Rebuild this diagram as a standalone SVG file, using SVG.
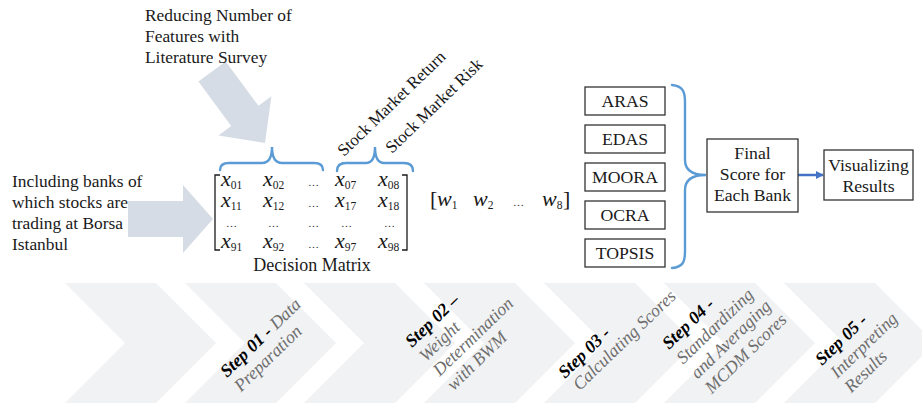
<svg xmlns="http://www.w3.org/2000/svg" width="922" height="403" viewBox="0 0 922 403">
<defs>
<style>
.t{font-family:"Liberation Serif","Times New Roman",serif;fill:#1a1a1a}
.lbl{font-size:17.4px}
.box{fill:#fff;stroke:#333;stroke-width:1.3}
.bt{font-size:17.7px;text-anchor:middle}
.chev{fill:#f1f2f4}
.bigarrow{fill:#d6dce5}
.brace{fill:none;stroke:#5b9bd5;stroke-width:2.4;stroke-linecap:round}
.mx{font-family:"Liberation Serif","Times New Roman",serif;font-size:22px;font-style:italic;fill:#1a1a1a}
.sub{font-size:11.5px;font-style:normal}
.dots{font-family:"Liberation Serif",serif;font-size:11px;fill:#1a1a1a}
.step{font-family:"Liberation Serif","Times New Roman",serif;font-size:17.8px;font-style:italic;fill:#6e6e6e}
.sb{font-weight:bold;fill:#000}
</style>
<marker id="ah" viewBox="0 0 10 10" refX="9" refY="5" markerWidth="3.2" markerHeight="3.2" orient="auto">
<path d="M0,0 L10,5 L0,10 z" fill="#4472c4"/>
</marker>
</defs>

<g id="chevrons">
<polygon class="chev" points="65,283 156,283 216,343 156,403 65,403 125,343"/>
<polygon class="chev" points="185,283 276,283 336,343 276,403 185,403 245,343"/>
<polygon class="chev" points="304,283 395,283 455,343 395,403 304,403 364,343"/>
<polygon class="chev" points="424,283 515,283 575,343 515,403 424,403 484,343"/>
<polygon class="chev" points="544,283 635,283 695,343 635,403 544,403 604,343"/>
<polygon class="chev" points="664,283 755,283 815,343 755,403 664,403 724,343"/>
<polygon class="chev" points="784,283 875,283 935,343 875,403 784,403 844,343"/>
</g>

<g id="step01">
<text class="step" transform="translate(227,378) rotate(-44)"><tspan x="0" y="0"><tspan class="sb">Step 01 - </tspan>Data</tspan><tspan x="0" y="20">Preparation</tspan></text>
</g>
<g id="step02">
<text class="step" transform="translate(412,348) rotate(-44)"><tspan x="0" y="0" class="sb">Step 02 –</tspan><tspan x="0" y="20">Weight</tspan><tspan x="0" y="40">Determination</tspan><tspan x="0" y="60">with BWM</tspan></text>
</g>
<g id="step03">
<text class="step" transform="translate(565,379) rotate(-44)"><tspan x="0" y="0" class="sb">Step 03 -</tspan><tspan x="2" y="19">Calculating Scores</tspan></text>
</g>
<g id="step04">
<text class="step" transform="translate(669,350) rotate(-44)"><tspan x="0" y="0" class="sb">Step 04 -</tspan><tspan x="0" y="20.5">Standardizing</tspan><tspan x="0" y="41">and Averaging</tspan><tspan x="0" y="61.5">MCDM Scores</tspan></text>
</g>
<g id="step05">
<text class="step" transform="translate(822,366) rotate(-44)"><tspan x="0" y="0" class="sb">Step 05 -</tspan><tspan x="2" y="20">Interpreting</tspan><tspan x="2" y="40">Results</tspan></text>
</g>

<g id="connectors">
<polygon class="bigarrow" points="225.7,61.4 258.5,105.8 271.4,96.3 265,143 218.4,135.5 231.2,126 198.4,81.6"/>
<polygon class="bigarrow" points="128,201 183,201 183,185 213,219 183,253 183,237 128,237"/>
<path class="brace" d="M220,170 Q220,163 229,163 L262,163 Q272,163 272,147 Q272,163 282,163 L314,163 Q323,163 323,170"/>
<path class="brace" d="M337,171 Q337,163 346,163 L366,163 Q375,163 375,147 Q375,163 384,163 L404,163 Q413,163 413,171"/>
<path class="brace" d="M672,85 C683,86 685,92 685,102 L685,160 C685,170 692,175 706,175 C692,175 685,180 685,190 L685,251 C685,262 683,267 672,268"/>
<line x1="798" y1="175" x2="823" y2="175" stroke="#4472c4" stroke-width="2.5" marker-end="url(#ah)"/>
</g>

<g id="reducing">
<text class="t lbl"><tspan x="145" y="21">Reducing Number of</tspan><tspan x="145" y="42">Features with</tspan><tspan x="145" y="63">Literature Survey</tspan></text>
</g>
<g id="including">
<text class="t lbl"><tspan x="12" y="187">Including banks of</tspan><tspan x="12" y="208">which stocks are</tspan><tspan x="12" y="229">trading at Borsa</tspan><tspan x="12" y="250">Istanbul</tspan></text>
</g>

<g id="stock-labels">
<text class="t" font-size="17" transform="translate(344,157) rotate(-44)">Stock Market Return</text>
<text class="t" font-size="17" transform="translate(392,154) rotate(-44)">Stock Market Risk</text>
</g>

<g id="decision-matrix">
<path d="M220,175 L215,175 L215,250 L220,250" fill="none" stroke="#1a1a1a" stroke-width="1.3"/>
<path d="M402,175 L407,175 L407,250 L402,250" fill="none" stroke="#1a1a1a" stroke-width="1.3"/>
<text class="mx" x="221" y="186">x<tspan class="sub" dy="3">01</tspan></text>
<text class="mx" x="263" y="186">x<tspan class="sub" dy="3">02</tspan></text>
<text class="dots" x="308" y="186">…</text>
<text class="mx" x="335" y="186">x<tspan class="sub" dy="3">07</tspan></text>
<text class="mx" x="378" y="186">x<tspan class="sub" dy="3">08</tspan></text>
<text class="mx" x="221" y="207">x<tspan class="sub" dy="3">11</tspan></text>
<text class="mx" x="263" y="207">x<tspan class="sub" dy="3">12</tspan></text>
<text class="dots" x="308" y="207">…</text>
<text class="mx" x="335" y="207">x<tspan class="sub" dy="3">17</tspan></text>
<text class="mx" x="378" y="207">x<tspan class="sub" dy="3">18</tspan></text>
<text class="dots" x="226" y="227">…</text>
<text class="dots" x="268" y="227">…</text>
<text class="dots" x="308" y="227">…</text>
<text class="dots" x="341" y="227">…</text>
<text class="dots" x="384" y="227">…</text>
<text class="mx" x="221" y="248">x<tspan class="sub" dy="3">91</tspan></text>
<text class="mx" x="263" y="248">x<tspan class="sub" dy="3">92</tspan></text>
<text class="dots" x="308" y="248">…</text>
<text class="mx" x="335" y="248">x<tspan class="sub" dy="3">97</tspan></text>
<text class="mx" x="378" y="248">x<tspan class="sub" dy="3">98</tspan></text>
<text class="t" x="312" y="271" font-size="18" text-anchor="middle">Decision Matrix</text>
</g>

<g id="weights">
<text class="mx" x="430" y="206"><tspan font-style="normal">[</tspan><tspan x="437">w</tspan><tspan class="sub" dy="3">1</tspan><tspan x="473" dy="-3">w</tspan><tspan class="sub" dy="3">2</tspan><tspan class="dots" x="513" dy="-3" font-size="11" font-style="normal">…</tspan><tspan x="542">w</tspan><tspan class="sub" dy="3">8</tspan><tspan x="563" dy="-3" font-style="normal">]</tspan></text>
</g>

<g id="aras"><rect class="box" x="585" y="87" width="80" height="28"/><text class="t bt" x="625" y="107">ARAS</text></g>
<g id="edas"><rect class="box" x="585" y="125" width="80" height="28"/><text class="t bt" x="625" y="145">EDAS</text></g>
<g id="moora"><rect class="box" x="585" y="163" width="80" height="28"/><text class="t bt" x="625" y="183">MOORA</text></g>
<g id="ocra"><rect class="box" x="585" y="201" width="80" height="28"/><text class="t bt" x="625" y="221">OCRA</text></g>
<g id="topsis"><rect class="box" x="585" y="239" width="80" height="28"/><text class="t bt" x="625" y="259">TOPSIS</text></g>

<g id="final-score"><rect class="box" x="707" y="139" width="91" height="73"/><text class="t bt"><tspan x="752.5" y="159">Final</tspan><tspan x="752.5" y="180">Score for</tspan><tspan x="752.5" y="201">Each Bank</tspan></text></g>
<g id="visualizing"><rect class="box" x="824" y="150" width="89" height="50"/><text class="t bt"><tspan x="868.5" y="171">Visualizing</tspan><tspan x="868.5" y="192">Results</tspan></text></g>
</svg>
